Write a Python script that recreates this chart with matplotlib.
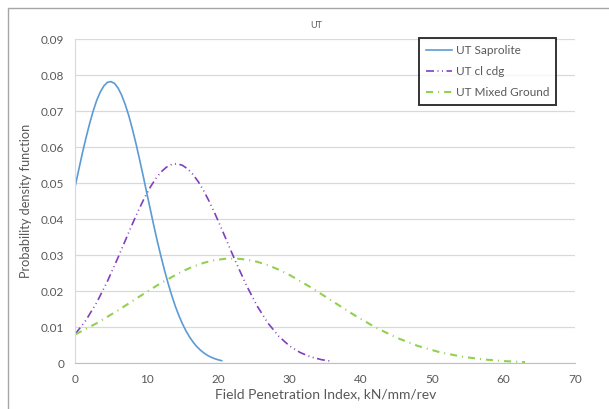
import matplotlib
matplotlib.use("Agg")
import matplotlib.pyplot as plt
from matplotlib.patches import Rectangle

# ---- data ----
sap_x = [0, 0.5, 1, 1.5, 2, 2.5, 3, 3.5, 4, 4.5, 5, 5.5, 6, 6.5, 7, 7.5, 8, 8.5, 9, 9.5,
         10, 10.5, 11, 11.5, 12, 12.5, 13, 13.5, 14, 14.5, 15, 15.5, 16, 16.5, 17, 17.5,
         18, 18.5, 19, 19.5, 20, 20.5]
sap_y = [0.0493, 0.0539, 0.0584, 0.0626, 0.0665, 0.0700, 0.0730, 0.0753, 0.0770, 0.0780,
         0.0782, 0.0777, 0.0764, 0.0744, 0.0718, 0.0687, 0.0650, 0.0610, 0.0566, 0.0521,
         0.0474, 0.0428, 0.0382, 0.0338, 0.0297, 0.0258, 0.0222, 0.0189, 0.0159, 0.0133,
         0.0110, 0.00902, 0.00732, 0.00589, 0.00468, 0.00370, 0.00289, 0.00223, 0.00171,
         0.00130, 0.00098, 0.00073]

cdg_x = [0, 1.5, 3, 4.5, 6, 6.75, 7.5, 8.25, 9, 9.75, 10.5, 11.25, 12, 12.75, 13.5, 14.25,
         15, 15.75, 16.5, 17.25, 18, 18.75, 19.5, 20.25, 21, 21.75, 22.5, 24, 25.5, 27,
         28.5, 30, 31.5, 33, 34.5, 36]
cdg_y = [0.00814, 0.01198, 0.01688, 0.02278, 0.02942, 0.03290, 0.03640, 0.03982, 0.04311,
         0.04616, 0.04889, 0.05123, 0.05309, 0.05443, 0.05521, 0.05539, 0.05497, 0.05396,
         0.05240, 0.05034, 0.04784, 0.04497, 0.04182, 0.03846, 0.03500, 0.03150, 0.02805,
         0.02153, 0.01582, 0.01113, 0.00750, 0.00484, 0.00299, 0.00177, 0.00100, 0.00054]

mix_x = [0, 3, 6, 9, 12, 15, 16.5, 18, 19.5, 21, 22.5, 24, 25.5, 27, 28.5, 30, 33, 36, 39,
         42, 45, 48, 51, 54, 57, 60, 63]
mix_y = [0.00801, 0.01113, 0.01471, 0.01855, 0.02229, 0.02554, 0.02685, 0.02789, 0.02862,
         0.02902, 0.02908, 0.02879, 0.02817, 0.02723, 0.02600, 0.02454, 0.02108, 0.01727,
         0.01348, 0.01002, 0.00711, 0.00481, 0.00310, 0.00190, 0.00111, 0.00062, 0.00033]

labels = ["UT Saprolite", "UT cl cdg", "UT Mixed Ground"]
title = "UT"
xlabel = "Field Penetration Index, kN/mm/rev"
ylabel = "Probability density function"
xticks = [0, 10, 20, 30, 40, 50, 60, 70]
yticks = [0, 0.01, 0.02, 0.03, 0.04, 0.05, 0.06, 0.07, 0.08, 0.09]

plt.rcParams['font.family'] = ['Lato', 'DejaVu Sans']
txt = '#595959'

fig = plt.figure(figsize=(6.09, 4.09), dpi=100)
fig.patch.set_facecolor('white')
# outer chart border
fig.patches.append(Rectangle((8.3 / 609, -0.1), 1.2, 1 - 8.3 / 409 + 0.1,
                             transform=fig.transFigure, fill=False,
                             edgecolor='#A6A6A6', linewidth=1.0))

ax = fig.add_axes([75.3 / 609, 45.7 / 409, (575 - 75.3) / 609, (363.5 - 39.3) / 409])

ax.plot(sap_x, sap_y, color='#5B9BD5', lw=1.2, label=labels[0])
ax.plot(cdg_x, cdg_y, color='#7F3FBF', lw=1.2, dashes=(4.8, 2.1, 0.6, 2.1, 0.6, 2.1),
        label=labels[1])
ax.plot(mix_x, mix_y, color='#92D050', lw=1.5, dashes=(3.4, 2.4, 0.5, 2.4), label=labels[2])

ax.set_xlim(0, 70)
ax.set_ylim(0, 0.09)
ax.set_xticks(xticks)
ax.set_yticks(yticks)
ax.set_xticklabels([str(t) for t in xticks])
ax.set_yticklabels(["0"] + ["%.2f" % t for t in yticks[1:]])
ax.grid(axis='y', color='#D9D9D9', lw=0.9)
ax.set_axisbelow(True)
for s in ['top', 'right']:
    ax.spines[s].set_visible(False)
ax.spines['left'].set_color('#D9D9D9')
ax.spines['bottom'].set_color('#BFBFBF')
ax.tick_params(length=0, labelsize=8.5, labelcolor=txt, pad=8)

ax.set_xlabel(xlabel, fontsize=10, color=txt, labelpad=2)
ax.set_ylabel(ylabel, fontsize=9.2, color=txt, labelpad=6)
fig.text(316 / 609, 1 - 26 / 409, title, ha='center', va='center', fontsize=6.5, color=txt)

leg = ax.legend(loc='upper left', bbox_to_anchor=((419 - 75.3) / 499.7, (363.5 - 38) / 324.2),
                fontsize=8.5, frameon=True, fancybox=False, handlelength=2.2,
                borderpad=0.6, labelspacing=0.85, handletextpad=0.3, borderaxespad=0)
leg.get_frame().set_edgecolor('black')
leg.get_frame().set_linewidth(1.4)
for t in leg.get_texts():
    t.set_color(txt)

fig.savefig("out.png", dpi=100)
